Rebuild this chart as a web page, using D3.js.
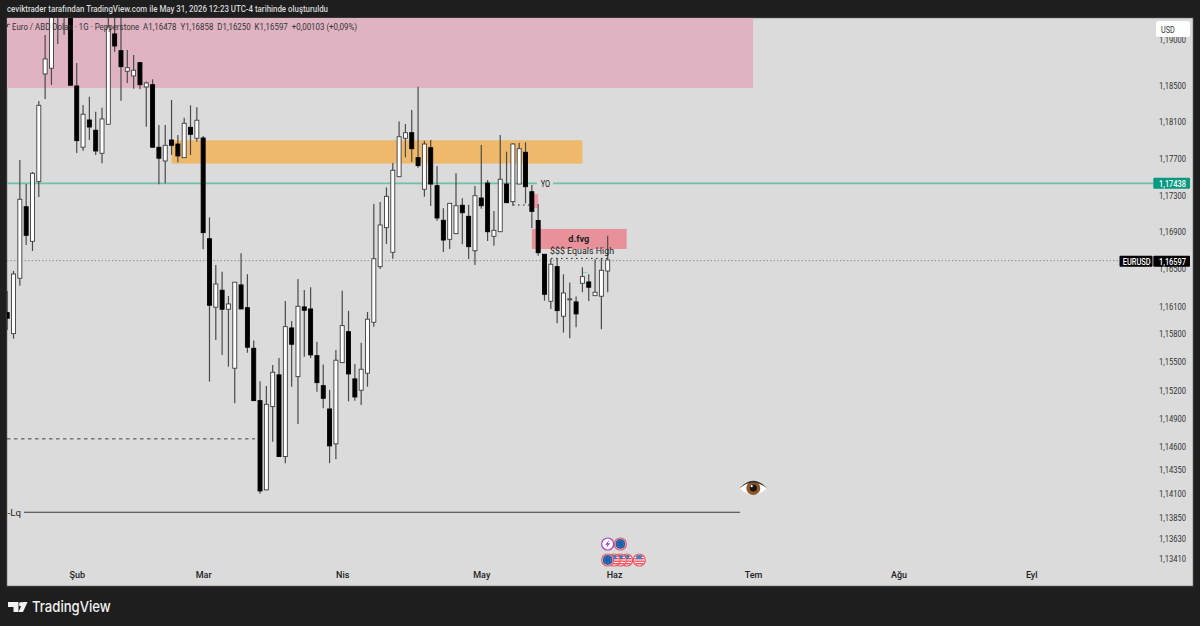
<!DOCTYPE html>
<html>
<head>
<meta charset="utf-8">
<script src="https://cdn.jsdelivr.net/npm/d3@7"></script>
<style>
  html, body { margin: 0; padding: 0; background: #1e1e1e; overflow: hidden; }
  text { font-family: Roboto, "Noto Sans", sans-serif; white-space: pre; }
</style>
</head>
<body>
<svg id="chart" width="1200" height="626"></svg>
<script>
// daily candles EURUSD, one row per bar, 16 Jan -> 29 May
const opens = [1.16030,1.15804,1.16400,1.17174,1.16799,1.17447,1.18625,1.18688,1.19500,1.19300,1.19380,1.18493,
  1.17822,1.18120,1.18008,1.17756,1.18073,1.19066,1.18881,1.18655,1.18603,1.18749,1.18482,1.18507,1.17822,1.17672,
  1.17901,1.17857,1.17708,1.18040,1.17920,1.17923,1.16827,1.16088,1.16271,1.16066,1.15433,1.16328,1.16083,1.15647,
  1.15087,1.14139,1.15023,1.15362,1.14492,1.15865,1.15343,1.16091,1.16069,1.15568,1.15247,1.14998,1.14627,1.15493,
  1.15825,1.15319,1.15198,1.15380,1.15926,1.16525,1.16947,1.16680,1.17501,1.17920,1.17981,1.17708,1.17364,1.17817,
  1.17403,1.17027,1.16821,1.16882,1.17190,1.17070,1.16697,1.17269,1.17432,1.16853,1.16903,1.17421,1.17229,1.17421,
  1.17767,1.17337,1.17025,1.16659,1.16152,1.16525,1.15991,1.16170,1.16145,1.16346,1.16360,1.16212,1.16206,1.16478];
const highs = [1.16263,1.16479,1.17683,1.17421,1.17552,1.18328,1.19055,1.19420,1.19600,1.19500,1.19500,1.18746,
  1.18284,1.18375,1.18211,1.18255,1.19275,1.19386,1.19331,1.18889,1.18834,1.18757,1.18541,1.18566,1.18065,1.18065,
  1.18339,1.17956,1.18145,1.18281,1.18259,1.17945,1.17059,1.16543,1.16471,1.16209,1.16357,1.16669,1.16443,1.15729,
  1.15294,1.15244,1.15469,1.15543,1.16155,1.15940,1.16392,1.16274,1.16303,1.15718,1.15472,1.15201,1.15629,1.16266,
  1.16048,1.15479,1.15707,1.16037,1.17204,1.17225,1.17385,1.17650,1.18102,1.18076,1.18230,1.18485,1.17894,1.17901,
  1.17618,1.17157,1.17211,1.17538,1.17266,1.17196,1.17399,1.17847,1.17465,1.17128,1.17956,1.17773,1.17865,1.17872,
  1.17876,1.17410,1.17204,1.16659,1.16608,1.16619,1.16443,1.16353,1.16202,1.16518,1.16443,1.16605,1.16616,1.16858];
const lows = [1.15844,1.15750,1.16320,1.16759,1.16694,1.17280,1.18350,1.18504,1.18955,1.19058,1.18501,1.17759,
  1.17784,1.17901,1.17738,1.17647,1.18073,1.18870,1.18331,1.18526,1.18463,1.18457,1.18047,1.17822,1.17418,1.17429,
  1.17738,1.17658,1.17708,1.17738,1.17883,1.16713,1.15290,1.15736,1.15576,1.15450,1.15059,1.16069,1.15600,1.15087,
  1.14097,1.14139,1.14648,1.14492,1.14422,1.15236,1.14839,1.15557,1.15543,1.15183,1.15006,1.14422,1.14464,1.15493,
  1.15080,1.15087,1.15041,1.15236,1.15879,1.16500,1.16770,1.16611,1.17501,1.17712,1.17661,1.17599,1.17283,1.17182,
  1.17023,1.16683,1.16716,1.16882,1.16767,1.16608,1.16543,1.17153,1.16802,1.16752,1.16903,1.17218,1.17185,1.17421,
  1.17211,1.16944,1.16644,1.16158,1.16069,1.15916,1.15815,1.15755,1.15872,1.16249,1.16155,1.16212,1.15850,1.16250];
const closes = [1.15969,1.16446,1.17255,1.16864,1.17538,1.18281,1.18790,1.19386,1.19320,1.19400,1.18501,1.17894,
  1.18183,1.18043,1.17781,1.18131,1.19143,1.18933,1.18705,1.18694,1.18666,1.18507,1.18526,1.17822,1.17702,1.17843,
  1.17843,1.17727,1.18084,1.17963,1.18117,1.16893,1.16109,1.16338,1.16066,1.16123,1.16357,1.16069,1.15658,1.15087,
  1.14128,1.15048,1.15390,1.14492,1.15879,1.15690,1.16098,1.16055,1.15576,1.15279,1.15112,1.14605,1.15519,1.15890,
  1.15372,1.15126,1.15422,1.15959,1.16611,1.16976,1.17287,1.17571,1.17937,1.17981,1.17806,1.17621,1.17857,1.17421,
  1.17052,1.16813,1.17211,1.17185,1.17109,1.16741,1.17294,1.17185,1.16903,1.16918,1.17473,1.17218,1.17857,1.17806,
  1.17392,1.17124,1.16676,1.16227,1.16551,1.16051,1.16241,1.16178,1.16016,1.16417,1.16303,1.16249,1.16486,1.16597];

const priceTicks = [1.19000,1.18500,1.18100,1.17700,1.17300,1.16900,1.16500,1.16100,1.15800,1.15500,1.15200,1.14900,
  1.14600,1.14350,1.14100,1.13850,1.13630,1.13410];
const monthBars = [11,31,53,75,96,118,141,162];
const monthLabels = ["Şub","Mar","Nis","May","Haz","Tem","Ağu","Eyl"];

// levels as they sit on the picture
const lastLevel = 1.16590;
const yoLevel = 1.17428;
const lqLevel = 1.13903;
const dashLevel = 1.14680;
const equalsLevel = 1.16614;
const midDotLevel = 1.17193;

// drawings: [bar from, bar to, price top, price bottom]
const pinkZone = [0, 118, 1.19700, 1.18471];
const orangeZone = [26, 91, 1.17898, 1.17643];
const fvgZone = [83, 98, 1.16933, 1.16716];
const smallFvg = [83.2, 84, 1.17312, 1.17160];

// drawn last to first, the leftmost icon of the row lies on top
const eventBars = [95, 97, 100, 98, 97, 96, 95];
const eventRows = [1, 1, 0, 0, 0, 0, 0];
const eventKinds = ["bolt", "eu", "us", "us", "us", "us", "eu"];

// -----------margins------>
const plotL = 7, plotR = 1193, plotT = 18, plotB = 586;

const svg = d3.select("#chart");
svg.append("rect").attr("width", 1200).attr("height", 626).attr("fill", "#1e1e1e");
svg.append("rect")
  .attr("x", plotL).attr("y", plotT)
  .attr("width", plotR - plotL).attr("height", plotB - plotT)
  .attr("fill", "#dbdbdb").attr("stroke", "#6e6e6e").attr("stroke-width", 0.6);

svg.append("clipPath").attr("id", "plot")
  .append("rect").attr("x", plotL).attr("y", plotT).attr("width", plotR - plotL).attr("height", plotB - plotT);

// -----------scales------>
let x = d3.scaleLinear().domain([0, 95]).range([7.2, 607.7]);
let y = d3.scaleLog().domain([1.13410, 1.19000]).range([559, 39.9]);

const plot = svg.append("g").attr("clip-path", "url(#plot)");

function zone(z, color) {
  plot.append("rect")
    .attr("x", x(z[0])).attr("y", y(z[2]))
    .attr("width", x(z[1]) - x(z[0])).attr("height", y(z[3]) - y(z[2]))
    .attr("fill", color);
}
zone(pinkZone, "#e0b3c3");
zone(orangeZone, "#efb96c");
zone(fvgZone, "#e9919b");
zone(smallFvg, "#ee9aa4");

function hline(price, x1, x2, color, width, dash) {
  plot.append("line")
    .attr("x1", x1).attr("x2", x2)
    .attr("y1", y(price)).attr("y2", y(price))
    .attr("stroke", color).attr("stroke-width", width)
    .attr("stroke-dasharray", dash || null);
}
hline(yoLevel, plotL, 537, "#6fc0a9", 1.7);
hline(yoLevel, 553, 1153, "#6fc0a9", 1.7);
hline(lastLevel, plotL, 1120, "#8d8d8d", 1, "1.5 2");
hline(dashLevel, plotL, 255, "#333", 0.9, "3.5 3.5");
hline(lqLevel, 24, 740, "#3a3a3a", 1.1);
hline(midDotLevel, 513, 531, "#222", 1, "1.5 3.5");
hline(equalsLevel, 551, 608, "#222", 1, "1.5 3.5");
plot.append("line").attr("x1", 583).attr("x2", 587.5).attr("y1", 272.5).attr("y2", 272.5)
  .attr("stroke", "#86d0dc").attr("stroke-width", 1.2);

// -----------candles------>
const bars = d3.range(opens.length);
const candles = plot.selectAll(".candle").data(bars).enter().append("g").attr("class", "candle");

candles.append("line")
  .attr("x1", i => x(i)).attr("x2", i => x(i))
  .attr("y1", i => y(highs[i])).attr("y2", i => y(lows[i]))
  .attr("stroke", "#4a4a4a").attr("stroke-width", 1.2);

candles.append("rect")
  .attr("x", i => x(i) - 2)
  .attr("width", 4)
  .attr("y", i => y(Math.max(opens[i], closes[i])))
  .attr("height", i => Math.max(1, Math.abs(y(opens[i]) - y(closes[i]))))
  .attr("fill", i => closes[i] >= opens[i] ? "#ffffff" : "#000000")
  .attr("stroke", i => closes[i] >= opens[i] ? "#3c3c3c" : "#000000")
  .attr("stroke-width", 0.9);

// -----------axes------>
let priceAxis = d3.axisRight(y)
  .tickValues(priceTicks)
  .tickSize(0)
  .tickPadding(0)
  .tickFormat(d => d3.format(".5f")(d).replace(".", ","));

svg.append("g")
  .attr("transform", "translate(1159,0)")
  .call(priceAxis)
  .call(g => g.select(".domain").remove())
  .selectAll("text")
  .style("font-size", "9.3px")
  .style("font-family", "Roboto, sans-serif")
  .attr("textLength", 27)
  .attr("lengthAdjust", "spacingAndGlyphs")
  .attr("fill", "#333");

let timeAxis = d3.axisBottom(x)
  .tickValues(monthBars)
  .tickSize(0)
  .tickPadding(0)
  .tickFormat((d, i) => monthLabels[i]);

svg.append("g")
  .attr("transform", "translate(0,572)")
  .call(timeAxis)
  .call(g => g.select(".domain").remove())
  .selectAll("text")
  .style("font-size", "9px")
  .style("font-weight", "500")
  .style("font-family", "Roboto, sans-serif")
  .attr("fill", "#222");

// squeezed text, the screenshot's font runs narrow
function label(str, tx, ty, len, size, weight, color) {
  return svg.append("text").attr("x", tx).attr("y", ty)
    .attr("font-size", size).attr("font-weight", weight)
    .attr("fill", color)
    .attr("textLength", len).attr("lengthAdjust", "spacingAndGlyphs")
    .text(str);
}

// -----------price labels------>
function priceTag(x1, w, yMid, fill, str, tx, len) {
  svg.append("rect").attr("x", x1).attr("y", yMid - 5.5).attr("width", w).attr("height", 11)
    .attr("fill", fill).attr("rx", 1);
  label(str, tx, yMid + 3.3, len, 9.3, 500, "#fff");
}
priceTag(1153.3, 36.7, y(yoLevel), "#089981", "1,17438", 1159, 27);
priceTag(1119.5, 33, y(lastLevel) + 0.6, "#000", "EURUSD", 1122.7, 28);
priceTag(1153.3, 36.7, y(lastLevel) + 0.6, "#000", "1,16597", 1159, 27);

svg.append("rect").attr("x", 1156).attr("y", 21).attr("width", 34).attr("height", 16)
  .attr("fill", "#fff").attr("rx", 2.5);
label("USD", 1161, 32.5, 13.7, 9, 400, "#333");

// -----------texts------>
label("ceviktrader tarafından TradingView.com ile May 31, 2026 12:23 UTC-4 tarihinde oluşturuldu",
  7, 12.4, 321, 9.3, 500, "#d6d6d6");

svg.append("path").attr("d", "M7.5 27V24.3H10").attr("fill", "none").attr("stroke", "#333").attr("stroke-width", 0.8);
label("Euro / ABD Doları · 1G · Pepperstone  A1,16478  Y1,16858  D1,16250  K1,16597  +0,00103 (+0,09%)",
  12, 30.4, 345, 9.3, 400, "#333");

label("YO", 540.7, 187.2, 9.5, 9, 400, "#222");
label("d.fvg", 568.3, 241.6, 21, 9.5, 700, "#222");
label("$$$ Equals High", 550, 254.4, 64, 9.2, 400, "#222");
label("-Lq", 7.5, 515.6, 13.5, 9.5, 400, "#222");

// -----------event icons------>
svg.append("clipPath").attr("id", "flag").append("circle").attr("r", 5.2);

const icons = svg.selectAll(".event").data(eventBars).enter().append("g")
  .attr("class", "event")
  .attr("transform", (d, i) => `translate(${x(d)},${eventRows[i] ? 544 : 560})`);

icons.append("circle").attr("r", 6)
  .attr("fill", "#fff")
  .attr("stroke", (d, i) => eventKinds[i] === "bolt" ? "#a63fc6" : "#f0525e")
  .attr("stroke-width", 1.2);

icons.filter((d, i) => eventKinds[i] === "bolt").append("path")
  .attr("d", "M1.5 -4L-2.5 0.8H-0.2L-1.5 4L2.5 -0.8H0.2Z").attr("fill", "#a63fc6");

icons.filter((d, i) => eventKinds[i] === "eu").append("circle").attr("r", 5).attr("fill", "#1a5fb4");
icons.filter((d, i) => eventKinds[i] === "eu").append("circle").attr("r", 3)
  .attr("fill", "none").attr("stroke", "#8a8f55").attr("stroke-width", 0.8).attr("stroke-dasharray", "0.8 0.8");

const flags = icons.filter((d, i) => eventKinds[i] === "us").append("g").attr("clip-path", "url(#flag)");
[-4.5, -2, 0.5, 3].forEach(s => {
  flags.append("rect").attr("x", -6).attr("y", s).attr("width", 12).attr("height", 1.4).attr("fill", "#ee4d58");
});
flags.append("rect").attr("x", -3).attr("y", -5.2).attr("width", 5.5).attr("height", 4.4).attr("fill", "#3f7fc4");

// -----------eye------>
const eye = svg.append("g").attr("transform", "translate(753.3,488)");
eye.append("path").attr("d", "M-13.5 0.5Q0 -13 13.5 0.5Q0 13 -13.5 0.5Z").attr("fill", "#fff");
eye.append("circle").attr("r", 7).attr("fill", "#8a5a2b");
eye.append("circle").attr("r", 3.6).attr("fill", "#1c1410");
eye.append("circle").attr("cx", -1.6).attr("cy", -1.8).attr("r", 1.1).attr("fill", "#fff");
eye.append("path").attr("d", "M-14 0.5Q0 -15 14 0.5Q0 -11.5 -14 0.5Z").attr("fill", "#333");

// -----------footer logo------>
const logo = svg.append("g").attr("fill", "#f2f2f2");
logo.append("path").attr("d", "M8 602H18.5V612H13.5V607H8Z");
logo.append("circle").attr("cx", 21.3).attr("cy", 604.3).attr("r", 2.3);
logo.append("path").attr("d", "M23 602H27.5L23 612H18.5Z");
logo.append("text").attr("x", 32).attr("y", 611.5)
  .attr("font-size", 15).attr("font-weight", 500)
  .attr("textLength", 78.7).attr("lengthAdjust", "spacingAndGlyphs")
  .style("font-family", "Inter, sans-serif")
  .text("TradingView");
</script>
</body>
</html>
